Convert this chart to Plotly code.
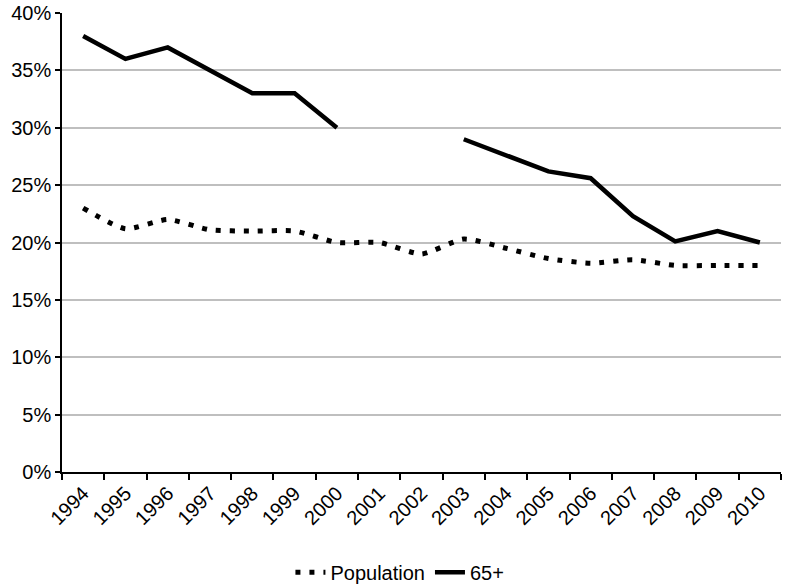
import plotly.graph_objects as go

years = [str(y) for y in range(1994, 2011)]
population = [23.0, 21.2, 22.0, 21.1, 21.0, 21.0, 20.0, 20.0, 19.0, 20.3, 19.5, 18.6, 18.2, 18.5, 18.0, 18.0, 18.0]
age65 = [38.0, 36.0, 37.0, 35.0, 33.0, 33.0, 30.0, None, None, 29.0, 27.6, 26.2, 25.6, 22.3, 20.1, 21.0, 20.0]
y_ticks = [0, 5, 10, 15, 20, 25, 30, 35, 40]

FONT = "Liberation Sans, Arial, sans-serif"

fig = go.Figure()
fig.add_trace(go.Scatter(
    x=years, y=population, name="Population", mode="lines",
    line=dict(color="black", width=5, dash="5px,9px", shape="spline", smoothing=0.6),
))
fig.add_trace(go.Scatter(
    x=years, y=age65, name="65+", mode="lines", connectgaps=False,
    line=dict(color="black", width=4.5),
))

fig.update_layout(
    width=786, height=584,
    margin=dict(l=62, r=5, t=13, b=112),
    paper_bgcolor="white", plot_bgcolor="white",
    font=dict(family=FONT, size=20, color="black"),
    showlegend=True,
    legend=dict(orientation="h", xref="paper", x=0.47, xanchor="center",
                yref="container", y=0.02, yanchor="middle",
                font=dict(size=20)),
    xaxis=dict(
        type="category", range=[-0.5, 16.5], tickson="boundaries", automargin=False,
        ticks="outside", ticklen=6, tickwidth=1.5, tickcolor="black",
        showline=True, linecolor="black", linewidth=1.5,
        showgrid=False, tickangle=-45, tickfont=dict(size=20),
    ),
    yaxis=dict(
        range=[0, 40], tickvals=y_ticks, ticktext=[f"{v}%" for v in y_ticks], automargin=False,
        ticks="outside", ticklen=5, tickwidth=1.5, tickcolor="black",
        showline=True, linecolor="black", linewidth=1.5,
        showgrid=True, gridcolor="#bfbfbf", gridwidth=1.5,
        zeroline=False, tickfont=dict(size=20),
    ),
)

fig.write_html("out.html", config={"displayModeBar": False},
               post_script="document.body.style.margin='0px';")
